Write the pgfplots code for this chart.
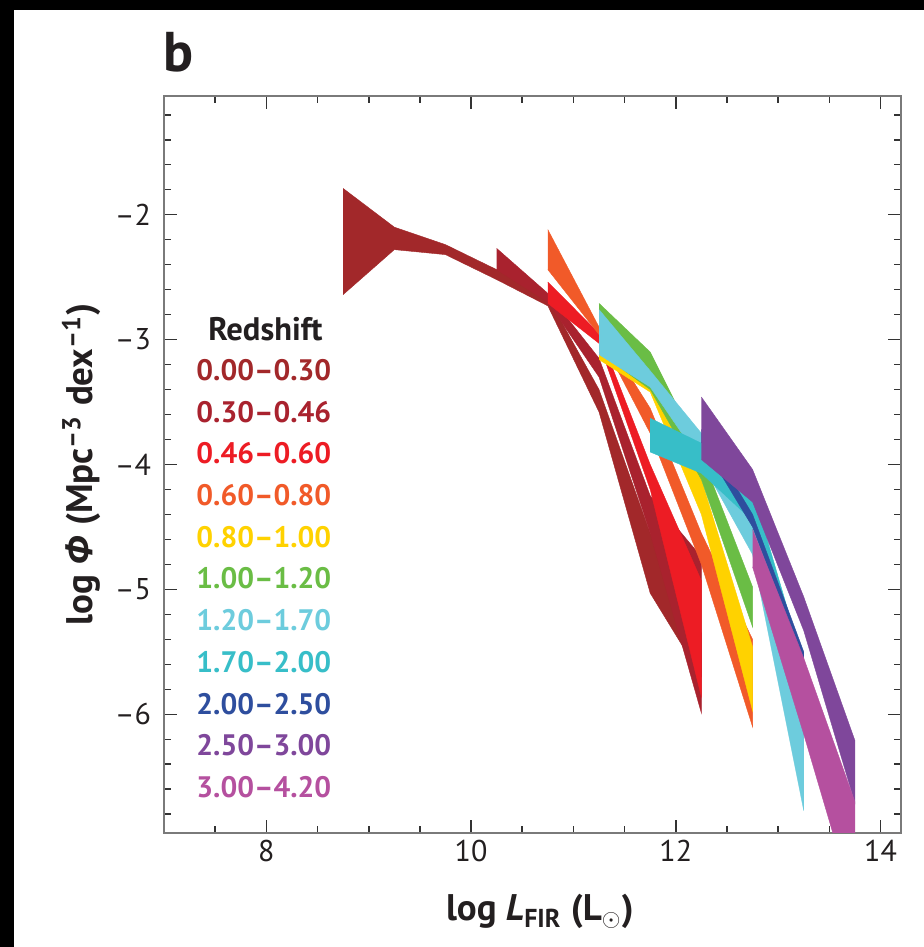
\documentclass[border=0pt]{standalone}
\usepackage{pgfplots}
\pgfplotsset{compat=1.18}
\usepackage{fontspec}
\setmainfont{PT Sans}
\newfontfamily\grk{Open Sans}
\definecolor{cA}{HTML}{A2282A}
\definecolor{cB}{HTML}{A9222E}
\definecolor{cC}{HTML}{ED1C24}
\definecolor{cD}{HTML}{F15A29}
\definecolor{cE}{HTML}{FFD200}
\definecolor{cF}{HTML}{6ABD45}
\definecolor{cG}{HTML}{6DCCDD}
\definecolor{cH}{HTML}{37BEC8}
\definecolor{cI}{HTML}{2E4E9E}
\definecolor{cJ}{HTML}{7F479B}
\definecolor{cK}{HTML}{B5509F}
\definecolor{txt}{HTML}{231F20}
\newcommand{\legf}{\fontsize{14.8}{16}\selectfont\bfseries}
\newcommand{\labf}{\fontsize{18.5}{21}\selectfont\bfseries}
\begin{document}
\begin{tikzpicture}
\fill[white] (0,0) rectangle (462pt,473.5pt);
\fill[black] (0,0) rectangle (7pt,473.5pt);
\fill[black] (0,468.5pt) rectangle (462pt,473.5pt);
\useasboundingbox (0,0) rectangle (462pt,473.5pt);
\node[font=\fontsize{28}{30}\selectfont\bfseries, text=txt, anchor=base west, inner sep=0pt] at (81.5pt,437.5pt) {b};
\begin{axis}[
  at={(82pt,57pt)}, anchor=south west,
  width=368.5pt, height=368.5pt, scale only axis,
  xmin=7, xmax=14.2, ymin=-6.95, ymax=-1.05,
  axis line style={draw=black!52, line width=1.3pt},
  tick align=inside,
  xtick pos=both, ytick pos=both,
  xticklabel pos=bottom, yticklabel pos=left,
  major tick length=6.5pt, minor tick length=3.5pt,
  every tick/.style={draw=black!80, line width=0.8pt},
  xtick={8,10,12,14}, xticklabels={8,10,12,14},
  minor xtick={7.5,8,8.5,9,9.5,10,10.5,11,11.5,12,12.5,13,13.5,14},
  ytick={-6,-5,-4,-3,-2},
  yticklabels={\textendash6,\textendash5,\textendash4,\textendash3,\textendash2},
  minor ytick={-6.8,-6.6,-6.4,-6.2,-5.8,-5.6,-5.4,-5.2,-4.8,-4.6,-4.4,-4.2,-3.8,-3.6,-3.4,-3.2,-2.8,-2.6,-2.4,-2.2,-1.8,-1.6,-1.4,-1.2},
  tick label style={font=\fontsize{15}{17}\selectfont, text=txt},
  yticklabel style={xshift=-3pt},
  xlabel={log \textit{L}\textsubscript{FIR} (L$_{\odot}$)},
  ylabel={log {\grk\itshape Φ} (Mpc\textsuperscript{\textendash3} dex\textsuperscript{\textendash1})},
  every axis x label/.style={at={(axis description cs:0.51,-0.107)}, anchor=center, font=\labf, text=txt},
  every axis y label/.style={at={(axis description cs:-0.112,0.5)}, rotate=90, anchor=center, font=\labf, text=txt},
]
% 0.00-0.30
\addplot[fill=cA, draw=cA, line width=0.2pt] coordinates {
(8.75,-1.79) (9.25,-2.10) (9.75,-2.24) (10.25,-2.44) (10.75,-2.66) (11.25,-3.40) (11.75,-4.55) (12.25,-5.35)
(12.25,-5.70) (11.75,-5.03) (11.25,-3.58) (10.75,-2.73) (10.25,-2.52) (9.75,-2.32) (9.25,-2.28) (8.75,-2.64)};
% 0.30-0.46
\addplot[fill=cB, draw=cB, line width=0.2pt] coordinates {
(10.25,-2.27) (10.75,-2.63) (11.25,-3.15) (11.75,-4.25) (12.25,-4.74)
(12.25,-5.99) (11.75,-4.55) (11.25,-3.30) (10.75,-2.70) (10.25,-2.44)};
% 0.46-0.60
\addplot[fill=cC, draw=cC, line width=0.2pt] coordinates {
(10.75,-2.54) (11.25,-2.95) (11.75,-4.00) (12.25,-4.93)
(12.25,-5.86) (11.75,-4.20) (11.25,-3.03) (10.75,-2.71)};
% 0.60-0.80
\addplot[fill=cD, draw=cD, line width=0.2pt] coordinates {
(10.75,-2.12) (11.25,-2.90) (11.75,-3.55) (12.25,-4.55) (12.75,-5.40)
(12.75,-6.10) (12.25,-4.80) (11.75,-3.75) (11.25,-2.96) (10.75,-2.44)};
% 0.80-1.00
\addplot[fill=cE, draw=cE, line width=0.2pt] coordinates {
(11.25,-3.05) (11.75,-3.30) (12.25,-4.12) (12.75,-5.46)
(12.75,-5.97) (12.25,-4.40) (11.75,-3.42) (11.25,-3.16)};
% 1.00-1.20
\addplot[fill=cF, draw=cF, line width=0.2pt] coordinates {
(11.25,-2.71) (11.75,-3.10) (12.25,-3.92) (12.75,-4.98)
(12.75,-5.30) (12.25,-4.12) (11.75,-3.40) (11.25,-3.10)};
% 1.20-1.70
\addplot[fill=cG, draw=cG, line width=0.2pt] coordinates {
(11.25,-2.76) (11.75,-3.25) (12.25,-3.75) (12.75,-4.45) (13.25,-5.80)
(13.25,-6.77) (12.75,-4.72) (12.25,-3.98) (11.75,-3.38) (11.25,-3.12)};
% 1.70-2.00
\addplot[fill=cH, draw=cH, line width=0.2pt] coordinates {
(11.75,-3.63) (12.25,-3.83) (12.75,-4.20) (13.25,-5.60)
(13.25,-5.95) (12.75,-4.45) (12.25,-4.07) (11.75,-3.90)};
% 2.00-2.50
\addplot[fill=cI, draw=cI, line width=0.2pt] coordinates {
(12.25,-3.72) (12.75,-4.40) (13.25,-5.50)
(13.25,-5.58) (12.75,-4.50) (12.25,-3.82)};
% 2.50-3.00
\addplot[fill=cJ, draw=cJ, line width=0.2pt] coordinates {
(12.25,-3.46) (12.75,-4.04) (13.25,-5.06) (13.75,-6.21)
(13.75,-6.71) (13.25,-5.33) (12.75,-4.30) (12.25,-3.96)};
% 3.00-4.20
\addplot[fill=cK, draw=cK, line width=0.2pt] coordinates {
(12.75,-4.52) (13.25,-5.55) (13.75,-6.70)
(13.75,-7.55) (13.25,-6.16) (12.75,-4.82)};
% legend
\node[font=\fontsize{16.3}{18}\selectfont\bfseries, text=txt, inner sep=0pt, anchor=center] at (axis cs:7.99,-2.915) {Redshift};
\node[font=\legf, text=cA, inner sep=0pt, anchor=west] at (axis cs:7.313,-3.244) {0.00\textendash0.30};
\node[font=\legf, text=cB, inner sep=0pt, anchor=west] at (axis cs:7.313,-3.578) {0.30\textendash0.46};
\node[font=\legf, text=cC, inner sep=0pt, anchor=west] at (axis cs:7.313,-3.912) {0.46\textendash0.60};
\node[font=\legf, text=cD, inner sep=0pt, anchor=west] at (axis cs:7.313,-4.245) {0.60\textendash0.80};
\node[font=\legf, text=cE, inner sep=0pt, anchor=west] at (axis cs:7.313,-4.579) {0.80\textendash1.00};
\node[font=\legf, text=cF, inner sep=0pt, anchor=west] at (axis cs:7.313,-4.913) {1.00\textendash1.20};
\node[font=\legf, text=cG, inner sep=0pt, anchor=west] at (axis cs:7.313,-5.247) {1.20\textendash1.70};
\node[font=\legf, text=cH, inner sep=0pt, anchor=west] at (axis cs:7.313,-5.581) {1.70\textendash2.00};
\node[font=\legf, text=cI, inner sep=0pt, anchor=west] at (axis cs:7.313,-5.915) {2.00\textendash2.50};
\node[font=\legf, text=cJ, inner sep=0pt, anchor=west] at (axis cs:7.313,-6.249) {2.50\textendash3.00};
\node[font=\legf, text=cK, inner sep=0pt, anchor=west] at (axis cs:7.313,-6.582) {3.00\textendash4.20};
\end{axis}
\end{tikzpicture}
\end{document}
